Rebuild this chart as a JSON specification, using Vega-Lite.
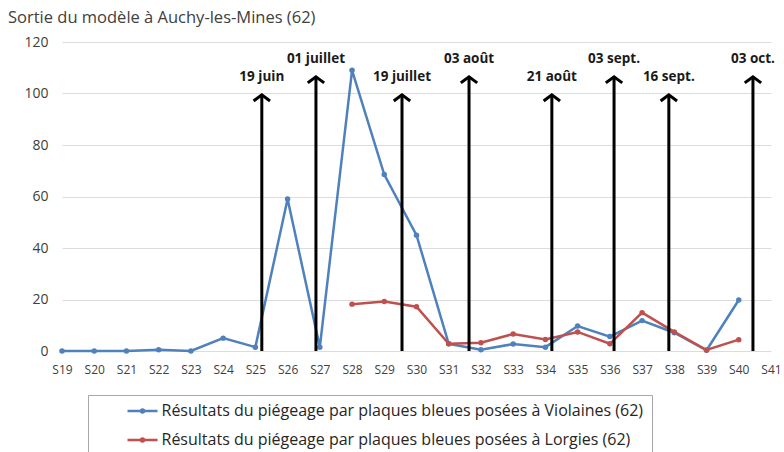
{
  "$schema": "https://vega.github.io/schema/vega-lite/v6.json",
  "width": 709,
  "height": 309,
  "autosize": {"type": "none"},
  "padding": {"left": 62, "top": 42, "right": 13, "bottom": 101},
  "background": "white",
  "title": {
    "text": "Sortie du modèle à Auchy-les-Mines (62)",
    "anchor": "start",
    "frame": "group",
    "dx": -54,
    "offset": 9,
    "font": "Open Sans",
    "fontSize": 16.5,
    "fontWeight": "normal",
    "color": "#404040"
  },
  "config": {
    "view": {"stroke": null},
    "axis": {"ticks": false, "domain": false, "gridColor": "#dcdcdc", "gridWidth": 1},
    "axisX": {"labelOverlap": false}
  },
  "datasets": {
    "series": [
      {"semaine": 19, "valeur": 0, "serie": "Résultats du piégeage par plaques bleues posées à Violaines (62)"},
      {"semaine": 20, "valeur": 0, "serie": "Résultats du piégeage par plaques bleues posées à Violaines (62)"},
      {"semaine": 21, "valeur": 0, "serie": "Résultats du piégeage par plaques bleues posées à Violaines (62)"},
      {"semaine": 22, "valeur": 0.5, "serie": "Résultats du piégeage par plaques bleues posées à Violaines (62)"},
      {"semaine": 23, "valeur": 0, "serie": "Résultats du piégeage par plaques bleues posées à Violaines (62)"},
      {"semaine": 24, "valeur": 5, "serie": "Résultats du piégeage par plaques bleues posées à Violaines (62)"},
      {"semaine": 25, "valeur": 1.5, "serie": "Résultats du piégeage par plaques bleues posées à Violaines (62)"},
      {"semaine": 26, "valeur": 59, "serie": "Résultats du piégeage par plaques bleues posées à Violaines (62)"},
      {"semaine": 27, "valeur": 1.5, "serie": "Résultats du piégeage par plaques bleues posées à Violaines (62)"},
      {"semaine": 28, "valeur": 109, "serie": "Résultats du piégeage par plaques bleues posées à Violaines (62)"},
      {"semaine": 29, "valeur": 68.5, "serie": "Résultats du piégeage par plaques bleues posées à Violaines (62)"},
      {"semaine": 30, "valeur": 45, "serie": "Résultats du piégeage par plaques bleues posées à Violaines (62)"},
      {"semaine": 31, "valeur": 2.8, "serie": "Résultats du piégeage par plaques bleues posées à Violaines (62)"},
      {"semaine": 32, "valeur": 0.5, "serie": "Résultats du piégeage par plaques bleues posées à Violaines (62)"},
      {"semaine": 33, "valeur": 2.7, "serie": "Résultats du piégeage par plaques bleues posées à Violaines (62)"},
      {"semaine": 34, "valeur": 1.5, "serie": "Résultats du piégeage par plaques bleues posées à Violaines (62)"},
      {"semaine": 35, "valeur": 9.7, "serie": "Résultats du piégeage par plaques bleues posées à Violaines (62)"},
      {"semaine": 36, "valeur": 5.6, "serie": "Résultats du piégeage par plaques bleues posées à Violaines (62)"},
      {"semaine": 37, "valeur": 11.8, "serie": "Résultats du piégeage par plaques bleues posées à Violaines (62)"},
      {"semaine": 38, "valeur": 7.1, "serie": "Résultats du piégeage par plaques bleues posées à Violaines (62)"},
      {"semaine": 39, "valeur": 0.3, "serie": "Résultats du piégeage par plaques bleues posées à Violaines (62)"},
      {"semaine": 40, "valeur": 19.8, "serie": "Résultats du piégeage par plaques bleues posées à Violaines (62)"},
      {"semaine": 28, "valeur": 18.2, "serie": "Résultats du piégeage par plaques bleues posées à Lorgies (62)"},
      {"semaine": 29, "valeur": 19.2, "serie": "Résultats du piégeage par plaques bleues posées à Lorgies (62)"},
      {"semaine": 30, "valeur": 17.2, "serie": "Résultats du piégeage par plaques bleues posées à Lorgies (62)"},
      {"semaine": 31, "valeur": 2.8, "serie": "Résultats du piégeage par plaques bleues posées à Lorgies (62)"},
      {"semaine": 32, "valeur": 3.2, "serie": "Résultats du piégeage par plaques bleues posées à Lorgies (62)"},
      {"semaine": 33, "valeur": 6.6, "serie": "Résultats du piégeage par plaques bleues posées à Lorgies (62)"},
      {"semaine": 34, "valeur": 4.5, "serie": "Résultats du piégeage par plaques bleues posées à Lorgies (62)"},
      {"semaine": 35, "valeur": 7.4, "serie": "Résultats du piégeage par plaques bleues posées à Lorgies (62)"},
      {"semaine": 36, "valeur": 2.8, "serie": "Résultats du piégeage par plaques bleues posées à Lorgies (62)"},
      {"semaine": 37, "valeur": 14.9, "serie": "Résultats du piégeage par plaques bleues posées à Lorgies (62)"},
      {"semaine": 38, "valeur": 7.4, "serie": "Résultats du piégeage par plaques bleues posées à Lorgies (62)"},
      {"semaine": 39, "valeur": 0.4, "serie": "Résultats du piégeage par plaques bleues posées à Lorgies (62)"},
      {"semaine": 40, "valeur": 4.4, "serie": "Résultats du piégeage par plaques bleues posées à Lorgies (62)"}
    ],
    "fleches": [
      {"date": "19 juin", "semaine": 25.2, "haut": 99.5},
      {"date": "01 juillet", "semaine": 26.88, "haut": 106.5},
      {"date": "19 juillet", "semaine": 29.55, "haut": 99.5},
      {"date": "03 août", "semaine": 31.63, "haut": 106.5},
      {"date": "21 août", "semaine": 34.2, "haut": 99.5},
      {"date": "03 sept.", "semaine": 36.13, "haut": 106.5},
      {"date": "16 sept.", "semaine": 37.83, "haut": 99.5},
      {"date": "03 oct.", "semaine": 40.44, "haut": 106.5}
    ]
  },
  "encoding": {
    "x": {
      "field": "semaine",
      "type": "quantitative",
      "scale": {"domain": [19, 41], "nice": false, "zero": false},
      "axis": {
        "title": null,
        "values": [19, 20, 21, 22, 23, 24, 25, 26, 27, 28, 29, 30, 31, 32, 33, 34, 35, 36, 37, 38, 39, 40, 41],
        "labelExpr": "'S' + datum.value",
        "grid": false,
        "labelFont": "Open Sans",
        "labelFontSize": 12,
        "labelColor": "#404040",
        "labelPadding": 13,
        "labelFlush": false,
        "labelOverlap": false
      }
    }
  },
  "layer": [
    {
      "data": {"name": "series"},
      "mark": {"type": "line", "strokeWidth": 2.5, "point": {"filled": true, "size": 30}},
      "encoding": {
        "y": {
          "field": "valeur",
          "type": "quantitative",
          "scale": {"domain": [0, 120], "nice": false},
          "axis": {
            "title": null,
            "values": [0, 20, 40, 60, 80, 100, 120],
            "labelFont": "Open Sans",
            "labelFontSize": 14,
            "labelColor": "#404040",
            "labelPadding": 14
          }
        },
        "color": {
          "field": "serie",
          "type": "nominal",
          "scale": {
            "domain": [
              "Résultats du piégeage par plaques bleues posées à Violaines (62)",
              "Résultats du piégeage par plaques bleues posées à Lorgies (62)"
            ],
            "range": ["#4F81BD", "#C0504D"]
          },
          "legend": {
            "title": null,
            "orient": "none",
            "legendX": 26,
            "legendY": 353,
            "strokeColor": "#a6a6a6",
            "padding": 8,
            "symbolType": "M-3,0H3M-0.3,0A0.3,0.3 0 1,1 0.3,0A0.3,0.3 0 1,1 -0.3,0",
            "symbolSize": 100,
            "symbolStrokeWidth": 2.5,
            "symbolOffset": 38.5,
            "labelOffset": 11,
            "labelFont": "Open Sans",
            "labelFontSize": 16,
            "labelColor": "#262626",
            "labelLimit": 700,
            "rowPadding": 13
          }
        }
      }
    },
    {
      "data": {"name": "fleches"},
      "mark": {"type": "rule", "color": "black", "strokeWidth": 3},
      "encoding": {
        "y": {"field": "haut", "type": "quantitative"},
        "y2": {"datum": 0}
      }
    },
    {
      "data": {"name": "fleches"},
      "mark": {
        "type": "point",
        "shape": "M-1,0.75L0,0L1,0.75",
        "filled": false,
        "stroke": "black",
        "strokeWidth": 3,
        "size": 196,
        "opacity": 1,
        "strokeCap": "square"
      },
      "encoding": {
        "y": {"field": "haut", "type": "quantitative"}
      }
    },
    {
      "data": {"name": "fleches"},
      "mark": {
        "type": "text",
        "font": "Open Sans",
        "fontSize": 13.5,
        "fontWeight": "bold",
        "color": "#1a1a1a",
        "baseline": "middle",
        "align": "center",
        "dy": -18
      },
      "encoding": {
        "y": {"field": "haut", "type": "quantitative"},
        "text": {"field": "date"}
      }
    }
  ]
}
